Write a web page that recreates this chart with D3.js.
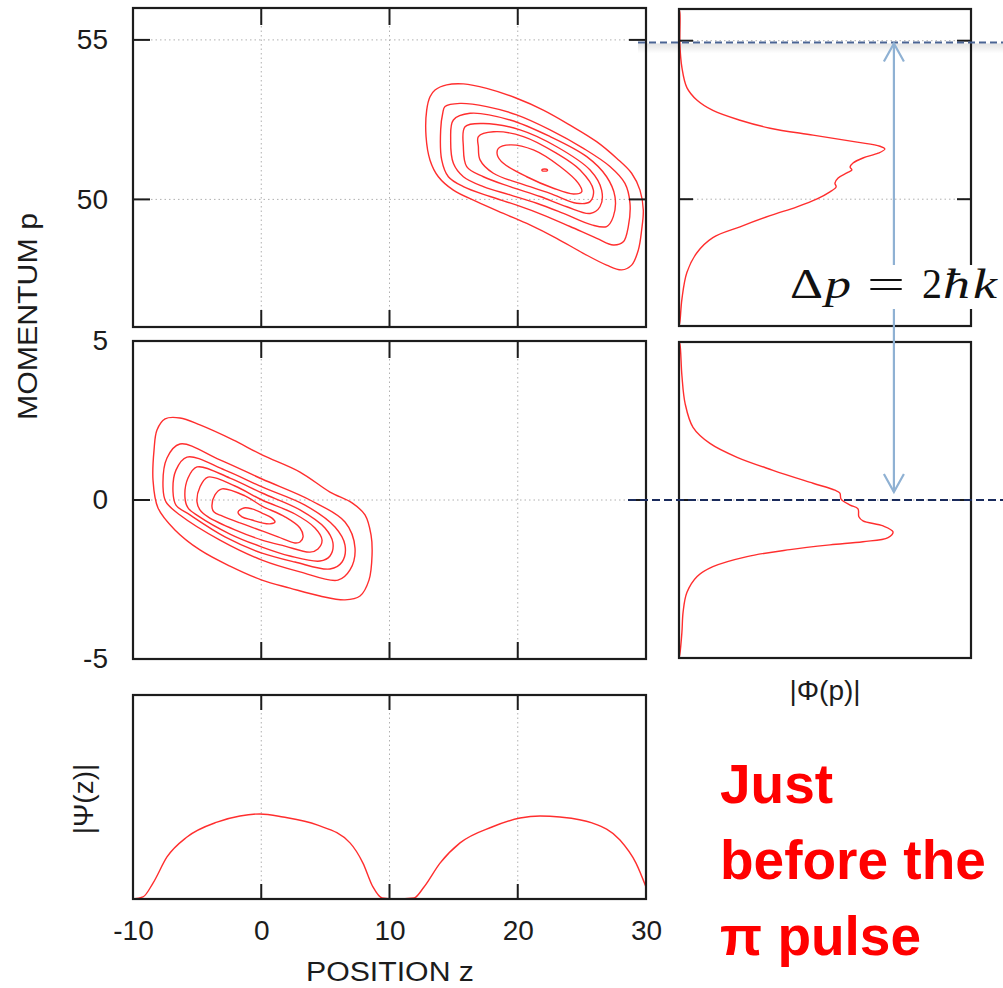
<!DOCTYPE html>
<html><head><meta charset="utf-8">
<script src="https://cdn.jsdelivr.net/npm/d3@7"></script>
<style>body{margin:0;background:#fff}svg{display:block}</style>
</head><body>
<svg id="c" width="1003" height="988"></svg>
<script>
// ---------------- DATA ----------------
const zTicks = [-10, 0, 10, 20, 30];
const zGrid = [0, 10, 20];
const pTicksTop = [55, 50];
const pTicksMid = [5, 0, -5];
const pGridTop = [55, 50];
const pGridMid = [0];

// contour rings (z, p), outer -> inner
const topContours = [
  [[13.55,53.43],[14.46,53.59],[15.76,53.62],[17.58,53.48],[19.91,53.17],[21.99,52.80],[24.07,52.33],[26.15,51.81],[27.71,51.29],[28.88,50.82],[29.53,50.29],[29.79,49.67],[29.66,49.04],[29.40,48.41],[28.88,47.94],[28.10,47.79],[26.93,47.94],[25.11,48.31],[23.03,48.78],[20.95,49.20],[18.88,49.56],[16.80,49.93],[14.98,50.29],[13.81,50.71],[13.16,51.23],[12.85,51.97],[12.90,52.80],[13.16,53.22]],
  [[14.33,52.91],[15.50,53.01],[17.58,52.91],[19.92,52.65],[22.52,52.18],[25.12,51.60],[27.19,51.03],[28.36,50.50],[28.75,49.88],[28.62,49.15],[28.23,48.67],[27.45,48.57],[26.16,48.78],[24.08,49.15],[22.00,49.51],[19.92,49.82],[17.84,50.09],[15.76,50.40],[14.59,50.71],[14.07,51.24],[13.99,52.18],[14.15,52.70]],
  [[14.98,52.49],[16.28,52.70],[19.40,52.49],[22.52,51.97],[25.38,51.34],[26.93,50.71],[27.58,50.09],[27.45,49.46],[26.93,49.15],[25.77,49.20],[23.56,49.56],[21.48,49.88],[19.40,50.14],[17.32,50.40],[15.76,50.71],[14.98,51.13],[14.77,51.86]],
  [[15.89,52.28],[17.32,52.38],[20.18,52.18],[23.04,51.65],[25.64,50.92],[26.54,50.29],[26.41,49.77],[25.64,49.56],[23.82,49.77],[21.74,50.09],[19.40,50.40],[17.32,50.71],[16.02,51.03],[15.76,51.65]],
  [[16.93,51.97],[18.10,52.12],[20.44,51.97],[23.04,51.44],[24.86,50.92],[25.90,50.29],[25.64,49.93],[24.60,49.88],[22.52,50.19],[20.18,50.50],[18.10,50.82],[17.06,51.24],[16.93,51.65]],
  [[18.49,51.60],[19.40,51.71],[21.22,51.55],[23.30,51.03],[24.73,50.50],[24.99,50.24],[24.34,50.17],[22.78,50.35],[20.70,50.71],[18.88,51.13],[18.41,51.39]],
  [[21.90,50.94],[22.30,50.94],[22.30,50.90],[21.90,50.90]]
];
const midContours = [
  [[-7.50,2.55],[-6.34,2.58],[-4.78,2.36],[-2.20,1.89],[0.06,1.42],[3.02,0.88],[5.36,0.25],[7.08,-0.09],[8.09,-0.47],[8.56,-1.10],[8.64,-1.73],[8.40,-2.52],[7.70,-3.02],[6.53,-3.14],[4.58,-3.02],[2.24,-2.77],[0.06,-2.52],[-2.44,-2.08],[-4.78,-1.57],[-6.73,-0.94],[-8.05,-0.25],[-8.44,0.63],[-8.36,1.57],[-8.13,2.20]],
  [[-7.66,0.41],[-7.35,1.32],[-6.34,1.76],[-3.22,1.26],[0.06,0.66],[3.80,0.00],[6.53,-0.69],[7.31,-1.51],[6.92,-2.20],[5.98,-2.52],[3.02,-2.26],[0.06,-1.89],[-3.22,-1.26],[-6.34,-0.47],[-7.43,-0.06]],
  [[-6.88,0.25],[-6.65,0.94],[-5.79,1.35],[-2.83,0.94],[0.06,0.41],[3.41,-0.16],[5.75,-0.85],[6.53,-1.42],[6.30,-1.95],[5.36,-2.17],[2.63,-1.95],[0.06,-1.67],[-2.83,-1.16],[-5.56,-0.47],[-6.65,-0.16]],
  [[-5.95,0.09],[-5.71,0.69],[-5.01,1.04],[-2.44,0.69],[0.06,0.22],[3.02,-0.31],[4.97,-0.88],[5.59,-1.35],[5.36,-1.76],[4.58,-1.92],[2.24,-1.76],[0.06,-1.48],[-2.44,-1.07],[-4.93,-0.50],[-5.71,-0.25]],
  [[-5.01,-0.06],[-4.78,0.41],[-4.15,0.72],[-2.05,0.44],[0.06,0.00],[2.63,-0.44],[4.19,-0.88],[4.74,-1.26],[4.42,-1.54],[3.80,-1.64],[1.85,-1.45],[0.06,-1.26],[-2.05,-0.94],[-4.15,-0.53],[-4.78,-0.31]],
  [[-3.84,-0.22],[-3.61,0.16],[-3.06,0.35],[-1.27,0.13],[0.06,-0.19],[1.85,-0.53],[3.02,-0.88],[3.26,-1.16],[3.02,-1.32],[2.63,-1.35],[1.31,-1.16],[0.06,-0.97],[-1.66,-0.72],[-3.06,-0.50],[-3.68,-0.38]],
  [[-1.81,-0.38],[-1.35,-0.25],[-0.72,-0.28],[0.06,-0.41],[0.84,-0.57],[1.07,-0.69],[0.68,-0.75],[0.06,-0.72],[-0.72,-0.63],[-1.50,-0.53]]
];

// |Phi(p)| : [p, amplitude]
const phiTop = [[56,0],[55.87,0.003],[54.90,0.003],[54.15,0.010],[53.52,0.027],[53.12,0.062],[52.80,0.116],[52.49,0.209],[52.24,0.312],[52.02,0.459],[51.80,0.610],[51.67,0.688],[51.58,0.705],[51.45,0.682],[51.30,0.630],[51.14,0.596],[51.02,0.586],[50.92,0.592],[50.83,0.575],[50.67,0.545],[50.51,0.534],[50.39,0.538],[50.23,0.517],[50.01,0.473],[49.76,0.404],[49.48,0.312],[49.13,0.209],[48.79,0.116],[48.32,0.062],[47.69,0.027],[46.85,0.010],[46.13,0.003],[46,0]];
const phiMid = [[5,0],[4.94,0.003],[3.93,0.010],[3.05,0.021],[2.30,0.048],[1.79,0.106],[1.35,0.199],[0.94,0.322],[0.53,0.459],[0.31,0.534],[0.22,0.551],[0.03,0.555],[-0.16,0.586],[-0.28,0.613],[-0.53,0.616],[-0.66,0.630],[-0.82,0.699],[-1.01,0.733],[-1.19,0.716],[-1.32,0.630],[-1.42,0.517],[-1.57,0.380],[-1.79,0.233],[-2.11,0.116],[-2.42,0.062],[-2.93,0.027],[-3.55,0.014],[-4.18,0.010],[-4.87,0.003],[-5,0]];

// |Psi(z)| : [z, amplitude]
const psi = [[-10,0],[-9.22,0.010],[-8.44,0.078],[-7.35,0.206],[-5.79,0.304],[-3.45,0.377],[-1.66,0.407],[-0.10,0.417],[1.70,0.402],[4.35,0.363],[6.92,0.275],[7.93,0.176],[8.71,0.059],[9.42,0.005],[10.5,0],[11.91,0.005],[12.69,0.059],[13.94,0.176],[15.50,0.275],[17.99,0.353],[20.18,0.397],[21.74,0.407],[23.29,0.402],[25.79,0.373],[27.97,0.289],[29.22,0.176],[30,0.059]];

// annotation
const arrowLevels = {top: 54.92, bottom: 0};
const arrowAmp = 0.736;
const noteLines = ["Just", "before the", "\u03c0 pulse"];

// ---------------- LAYOUT ----------------
const FONT = "'Liberation Sans', Arial, Helvetica, sans-serif";
const RED = "#ff2e2e";
const INK = "#1c1c1c";
const svg = d3.select("#c");

const x = d3.scaleLinear([-10, 30], [133, 646]);
const yTop = d3.scaleLinear([46, 56], [327, 8]);
const yMid = d3.scaleLinear([-5, 5], [659, 341]);
const yBot = d3.scaleLinear([0, 1], [899, 695]);
const amp = d3.scaleLinear([0, 1], [679, 971]);
const yTopR = d3.scaleLinear([46, 56], [326, 9]);
const yMidR = d3.scaleLinear([-5, 5], [658, 342]);

const defs = svg.append("defs");
let clipN = 0;
function makeClip(xs, ys) {
  const id = "clip" + (clipN++);
  const [a, b] = xs.range(), [c, d] = ys.range();
  defs.append("clipPath").attr("id", id).append("rect")
    .attr("x", Math.min(a, b)).attr("y", Math.min(c, d))
    .attr("width", Math.abs(b - a)).attr("height", Math.abs(d - c));
  return "url(#" + id + ")";
}

function panel(xs, ys, o) {
  const g = svg.append("g");
  const [x0, x1] = xs.range(), [yb, yt] = ys.range();
  (o.xGrid || []).forEach(v => g.append("line")
    .attr("x1", xs(v)).attr("x2", xs(v)).attr("y1", yt).attr("y2", yb)
    .attr("stroke", "#b0b0b0").attr("stroke-width", 1).attr("stroke-dasharray", "1.5,3"));
  (o.yGrid || []).forEach(v => g.append("line")
    .attr("y1", ys(v)).attr("y2", ys(v)).attr("x1", x0).attr("x2", x1)
    .attr("stroke", "#b0b0b0").attr("stroke-width", 1).attr("stroke-dasharray", "1.5,3"));
  const content = svg.append("g").attr("clip-path", makeClip(xs, ys));
  const top = svg.append("g");
  const tl = o.tick || 17;
  (o.xTicks || []).forEach(v => {
    top.append("line").attr("x1", xs(v)).attr("x2", xs(v)).attr("y1", yb).attr("y2", yb - tl)
      .attr("stroke", INK).attr("stroke-width", 2);
    top.append("line").attr("x1", xs(v)).attr("x2", xs(v)).attr("y1", yt).attr("y2", yt + tl)
      .attr("stroke", INK).attr("stroke-width", 2);
  });
  (o.yTicks || []).forEach(v => {
    top.append("line").attr("y1", ys(v)).attr("y2", ys(v)).attr("x1", x0).attr("x2", x0 + tl)
      .attr("stroke", INK).attr("stroke-width", 2);
    top.append("line").attr("y1", ys(v)).attr("y2", ys(v)).attr("x1", x1).attr("x2", x1 - tl)
      .attr("stroke", INK).attr("stroke-width", 2);
  });
  top.append("rect").attr("x", x0).attr("y", yt).attr("width", x1 - x0).attr("height", yb - yt)
    .attr("fill", "none").attr("stroke", INK).attr("stroke-width", 2.2);
  return content;
}

const cTop = panel(x, yTop, {xGrid: zGrid, yGrid: pGridTop, xTicks: zGrid, yTicks: pTicksTop});
const cMid = panel(x, yMid, {xGrid: zGrid, yGrid: pGridMid, xTicks: zGrid, yTicks: [0]});
const cBot = panel(x, yBot, {xGrid: zGrid, xTicks: zGrid, tick: 15});
const cTR = panel(amp, yTopR, {yGrid: pGridTop, yTicks: pTicksTop, tick: 14});
const cMR = panel(amp, yMidR, {yGrid: pGridMid, yTicks: [0], tick: 14});

const ringTop = d3.line().x(d => x(d[0])).y(d => yTop(d[1])).curve(d3.curveCatmullRomClosed.alpha(0.5));
const ringMid = d3.line().x(d => x(d[0])).y(d => yMid(d[1])).curve(d3.curveCatmullRomClosed.alpha(0.5));
cTop.selectAll("path").data(topContours).join("path").attr("d", ringTop)
  .attr("fill", "none").attr("stroke", RED).attr("stroke-width", 1.4);
cMid.selectAll("path").data(midContours).join("path").attr("d", ringMid)
  .attr("fill", "none").attr("stroke", RED).attr("stroke-width", 1.4);

cTR.append("path").datum(phiTop)
  .attr("d", d3.line().x(d => amp(d[1])).y(d => yTopR(d[0])).curve(d3.curveCatmullRom.alpha(0.5)))
  .attr("fill", "none").attr("stroke", RED).attr("stroke-width", 1.4);
cMR.append("path").datum(phiMid)
  .attr("d", d3.line().x(d => amp(d[1])).y(d => yMidR(d[0])).curve(d3.curveCatmullRom.alpha(0.5)))
  .attr("fill", "none").attr("stroke", RED).attr("stroke-width", 1.4);

cBot.append("path").datum(psi)
  .attr("d", d3.line().x(d => x(d[0])).y(d => yBot(d[1])).curve(d3.curveMonotoneX))
  .attr("fill", "none").attr("stroke", RED).attr("stroke-width", 1.4);

function styleAxis(g) {
  g.select(".domain").remove();
  g.selectAll("text").attr("font-family", FONT).attr("font-size", 28).attr("fill", INK);
}
svg.append("g").attr("transform", "translate(133,0)")
  .call(d3.axisLeft(yTop).tickValues(pTicksTop).tickSize(0).tickPadding(25).tickFormat(d => String(d)))
  .call(styleAxis);
svg.append("g").attr("transform", "translate(133,0)")
  .call(d3.axisLeft(yMid).tickValues(pTicksMid).tickSize(0).tickPadding(25).tickFormat(d => String(d)))
  .call(styleAxis);
svg.append("g").attr("transform", "translate(0,899)")
  .call(d3.axisBottom(x).tickValues(zTicks).tickSize(0).tickPadding(21).tickFormat(d => String(d)))
  .call(styleAxis);

svg.append("text").attr("x", 390).attr("y", 981).attr("text-anchor", "middle")
  .attr("font-family", FONT).attr("font-size", 27).attr("fill", INK)
  .attr("textLength", 168).attr("lengthAdjust", "spacingAndGlyphs").text("POSITION z");
svg.append("text").attr("transform", "translate(37,316.5) rotate(-90)").attr("text-anchor", "middle")
  .attr("font-family", FONT).attr("font-size", 28).attr("fill", INK)
  .attr("textLength", 207).attr("lengthAdjust", "spacingAndGlyphs").text("MOMENTUM p");
svg.append("text").attr("transform", "translate(93,799) rotate(-90)").attr("text-anchor", "middle")
  .attr("font-family", FONT).attr("font-size", 28).attr("fill", INK).text("|\u03a8(z)|");
svg.append("text").attr("x", 825).attr("y", 700).attr("text-anchor", "middle")
  .attr("font-family", FONT).attr("font-size", 28).attr("fill", INK).text("|\u03a6(p)|");

// ---------------- ANNOTATIONS ----------------
const grad = defs.append("linearGradient").attr("id", "shadow").attr("x1", 0).attr("x2", 0).attr("y1", 0).attr("y2", 1);
grad.append("stop").attr("offset", "0%").attr("stop-color", "#000").attr("stop-opacity", 0.11);
grad.append("stop").attr("offset", "100%").attr("stop-color", "#000").attr("stop-opacity", 0);
const yA = yTop(arrowLevels.top), yB = yMid(arrowLevels.bottom);
svg.append("rect").attr("x", 638).attr("y", yA + 1).attr("width", 365).attr("height", 10).attr("fill", "url(#shadow)");
svg.append("line").attr("x1", 638).attr("x2", 1003).attr("y1", yA).attr("y2", yA)
  .attr("stroke", "#4a6494").attr("stroke-width", 2).attr("stroke-dasharray", "7,4");
svg.append("line").attr("x1", 628).attr("x2", 1003).attr("y1", yB).attr("y2", yB)
  .attr("stroke", "#1a2b5c").attr("stroke-width", 2).attr("stroke-dasharray", "8,4");

const ax = amp(arrowAmp);
const ARW = "#8fb1d3";
svg.append("line").attr("x1", ax).attr("x2", ax).attr("y1", yA + 1).attr("y2", yB - 8)
  .attr("stroke", ARW).attr("stroke-width", 2.2);
svg.append("path").attr("d", `M${ax - 10},${yA + 19}L${ax},${yA + 1}L${ax + 10},${yA + 19}`)
  .attr("fill", "none").attr("stroke", ARW).attr("stroke-width", 2.2);
svg.append("path").attr("d", `M${ax - 10},${yB - 26}L${ax},${yB - 8}L${ax + 10},${yB - 26}`)
  .attr("fill", "none").attr("stroke", ARW).attr("stroke-width", 2.2);

svg.append("rect").attr("x", 783).attr("y", 265).attr("width", 220).attr("height", 44).attr("fill", "#fff");
const SERIF = "'Liberation Serif', 'DejaVu Serif', serif";
const dp = [
  {t: "\u0394", x: 790, w: 33, it: false},
  {t: "p", x: 825, w: 26, it: true},
  {t: "=", x: 867, w: 38, it: false},
  {t: "2", x: 922, w: 20, it: false},
  {t: "\u0127", x: 943, w: 27, it: true},
  {t: "k", x: 973, w: 24, it: true}
];
svg.selectAll("text.dp").data(dp).join("text").attr("class", "dp")
  .attr("x", d => d.x).attr("y", 298).attr("font-family", SERIF).attr("font-size", 42)
  .attr("font-style", d => d.it ? "italic" : "normal").attr("fill", "#111")
  .attr("textLength", d => d.w).attr("lengthAdjust", "spacingAndGlyphs").text(d => d.t);

svg.selectAll("text.note").data(noteLines).join("text").attr("class", "note")
  .attr("x", 720).attr("y", (d, i) => 803 + i * 76)
  .attr("font-family", FONT).attr("font-weight", "bold").attr("font-size", 55)
  .attr("fill", "#ff0000").text(d => d);
</script>
</body></html>
